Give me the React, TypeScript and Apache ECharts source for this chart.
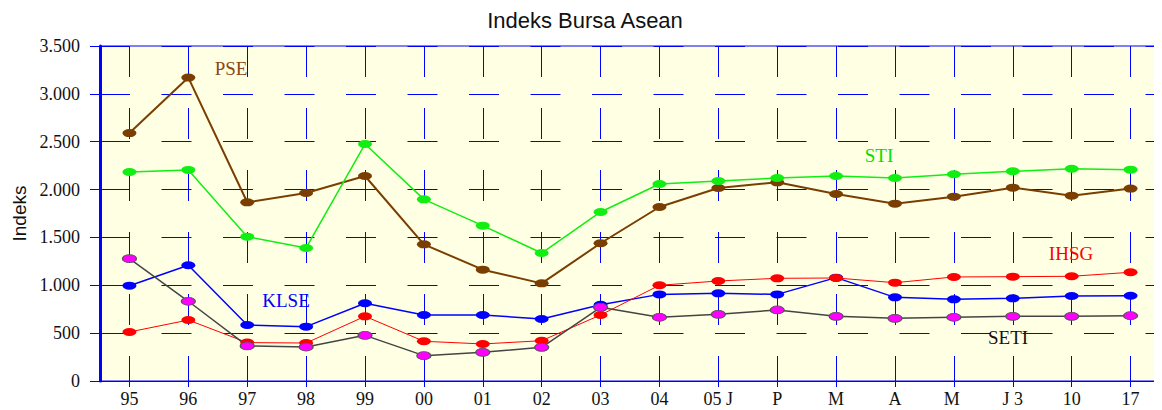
import React, { useEffect, useRef } from "react";
import * as echarts from "echarts";

const categories = ["95", "96", "97", "98", "99", "00", "01", "02", "03", "04", "05 J", "P", "M", "A", "M ", "J 3", "10", "17"];
const pse = [2590, 3170, 1867, 1964, 2142, 1428, 1163, 1020, 1439, 1818, 2016, 2076, 1954, 1853, 1926, 2020, 1936, 2010];
const sti = [2184, 2205, 1508, 1390, 2476, 1898, 1623, 1337, 1766, 2058, 2090, 2121, 2142, 2121, 2160, 2191, 2218, 2208];
const klse = [996, 1209, 585, 568, 812, 690, 690, 648, 797, 905, 916, 905, 1080, 874, 853, 864, 888, 891];
const ihsg = [512, 637, 401, 397, 676, 415, 387, 421, 690, 1000, 1045, 1073, 1076, 1027, 1087, 1090, 1094, 1136];
const seti = [1278, 833, 366, 355, 477, 265, 300, 352, 770, 666, 697, 742, 676, 655, 666, 676, 676, 682];

const seriesLabels = [
  { text: "PSE", x: 223, y: 60, color: "#8B4A14" },
  { text: "STI", x: 871, y: 147, color: "#00E000" },
  { text: "KLSE", x: 278, y: 292, color: "#0000FF" },
  { text: "IHSG", x: 1063, y: 245, color: "#FF0000" },
  { text: "SETI", x: 1000, y: 329, color: "#111111" },
];

const fmt = (v: number) =>
  v >= 1000 ? `${Math.floor(v / 1000)}.${String(v % 1000).padStart(3, "0")}` : String(v);

const ellipse = "path://M0,4A7,4,0,1,1,14,4A7,4,0,1,1,0,4Z";

export default function App() {
  const ref = useRef<HTMLDivElement>(null);
  useEffect(() => {
    if (!ref.current) return;
    const chart = echarts.init(ref.current, null, { renderer: "svg" });
    const blue = "#0000FF";
    const serif = "'Liberation Serif', 'Times New Roman', serif";
    const sans = "'Liberation Sans', Arial, sans-serif";
    const mk = (name: string, data: number[], color: string, width: number, fill?: string, border?: string) => ({
      name,
      type: "line",
      data,
      symbol: ellipse,
      symbolSize: [14, 8],
      symbolKeepAspect: false,
      lineStyle: { color, width },
      itemStyle: fill
        ? { color: fill, borderColor: border, borderWidth: 1 }
        : { color, borderWidth: 0 },
      z: 3,
    });
    chart.setOption({
      animation: false,
      title: {
        text: "Indeks Bursa Asean",
        left: "center",
        top: -4,
        textStyle: { fontFamily: sans, fontSize: 22, fontWeight: "normal", color: "#111" },
      },
      grid: {
        left: 92,
        right: 2,
        top: 38,
        bottom: 29,
        containLabel: false,
        outerBoundsMode: "none",
        show: true,
        backgroundColor: "#FFFFE4",
        borderColor: blue,
        borderWidth: 1,
      },
      xAxis: {
        type: "category",
        data: categories,
        boundaryGap: true,
        axisLine: { lineStyle: { color: blue, width: 1 } },
        axisTick: { show: true, alignWithLabel: true, length: 6, lineStyle: { color: blue } },
        axisLabel: { fontFamily: serif, fontSize: 18, color: "#111", margin: 9, interval: 0 },
        splitLine: {
          show: true,
          alignWithLabel: true,
          lineStyle: { color: blue, width: 1, type: [31, 31] },
        },
      },
      yAxis: [
        {
          type: "value",
          min: 0,
          max: 3500,
          interval: 500,
          name: "Indeks",
          nameLocation: "middle",
          nameGap: 71,
          nameRotate: 90,
          nameTextStyle: { fontFamily: sans, fontSize: 19, color: "#111" },
          axisLine: { show: true, lineStyle: { color: blue, width: 3 } },
          axisTick: { show: true, length: 10, lineStyle: { color: blue } },
          axisLabel: { fontFamily: serif, fontSize: 18, color: "#111", margin: 20, formatter: (v: number) => fmt(v) },
          splitLine: { show: true, lineStyle: { color: blue, width: 1, type: [30, 31.5] } },
        },
        {
          type: "value",
          min: 0,
          max: 3500,
          interval: 500,
          position: "right",
          axisLine: { show: true, lineStyle: { color: blue, width: 2 } },
          axisTick: { show: false },
          axisLabel: { show: false },
          splitLine: { show: false },
        },
      ],
      series: [
        mk("PSE", pse, "#7A3E00", 2),
        mk("STI", sti, "#11EE11", 1.5),
        mk("KLSE", klse, "#0000FF", 1.5),
        mk("IHSG", ihsg, "#FF0000", 1),
        mk("SETI", seti, "#444444", 1.5, "#FF00FF", "#555555"),
      ],
      graphic: seriesLabels.map((l) => ({
        type: "text",
        x: l.x,
        y: l.y,
        z: 10,
        style: {
          text: l.text,
          fill: l.color,
          font: `19px ${serif}`,
          align: "center",
          verticalAlign: "middle",
        },
      })),
    });
    return () => chart.dispose();
  }, []);
  return <div ref={ref} style={{ width: 1154, height: 402 }} />;
}
